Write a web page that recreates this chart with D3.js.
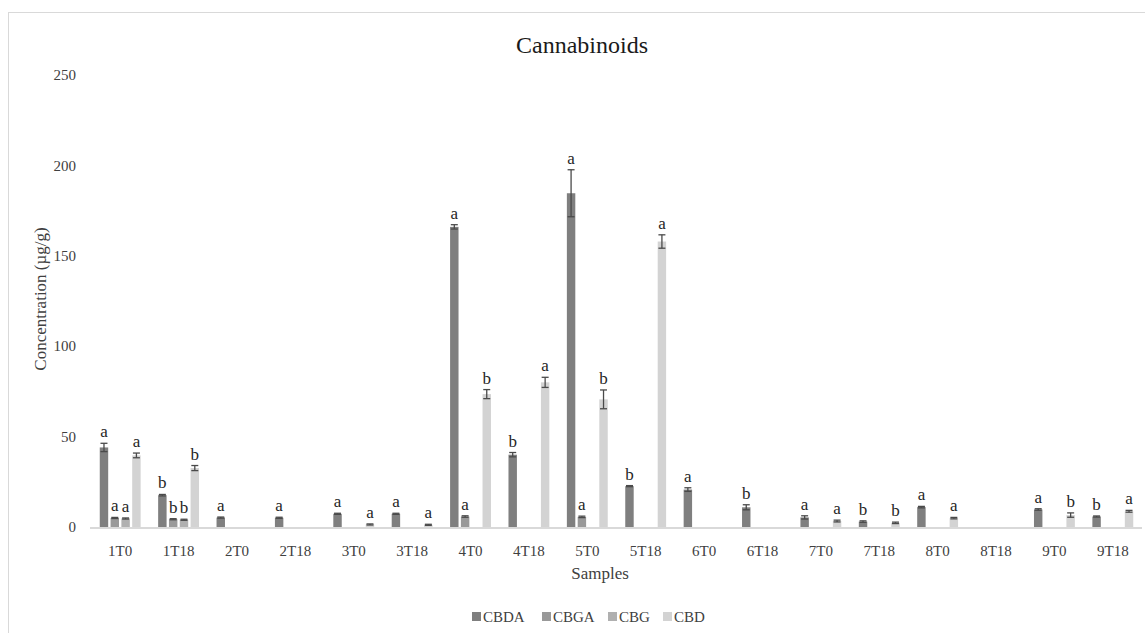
<!DOCTYPE html>
<html>
<head>
<meta charset="utf-8">
<script src="https://cdn.jsdelivr.net/npm/d3@7"></script>
<style>
  body { margin: 0; background: #fff; }
  svg { display: block; font-family: 'Liberation Serif', serif; }
</style>
</head>
<body>
<div id="chart"></div>
<script>
// samples on the x axis
let samples = ['1T0', '1T18', '2T0', '2T18', '3T0', '3T18', '4T0', '4T18', '5T0',
  '5T18', '6T0', '6T18', '7T0', '7T18', '8T0', '8T18', '9T0', '9T18']

let compounds = ['CBDA', 'CBGA', 'CBG', 'CBD']

// mean values (µg/g), null = not detected
let cbda = [44, 17.6, 5.2, 5.1, 7.3, 7.3, 166, 40, 184.6, 22.6, 20.7, 10.9, 5.3, 3.0, 11, null, 9.7, 5.8]
let cbga = [5.0, 4.3, null, null, null, null, 5.8, null, 5.6, null, null, null, null, null, null, null, null, null]
let cbg = [4.7, 4.0, null, null, null, null, null, null, null, null, null, null, null, null, null, null, null, null]
let cbd = [39.6, 32.6, null, null, 1.4, 1.2, 73.5, 80, 70.6, 157.9, null, null, 3.3, 2.3, 4.9, null, 6.6, 8.7]

// standard deviations
let cbdaErr = [2.3, 0.4, 0.3, 0.3, 0.3, 0.3, 1.2, 1.2, 13, 0.3, 1, 1.4, 0.9, 0.4, 0.4, null, 0.4, 0.3]
let cbgaErr = [0.3, 0.3, null, null, null, null, 0.4, null, 0.4, null, null, null, null, null, null, null, null, null]
let cbgErr = [0.3, 0.3, null, null, null, null, null, null, null, null, null, null, null, null, null, null, null, null]
let cbdErr = [1.3, 1.4, null, null, 0.3, 0.3, 2.5, 2.8, 5.2, 3.7, null, null, 0.5, 0.4, 0.4, null, 1.2, 0.5]

// significance letters
let cbdaLetters = ['a', 'b', 'a', 'a', 'a', 'a', 'a', 'b', 'a', 'b', 'a', 'b', 'a', 'b', 'a', '', 'a', 'b']
let cbgaLetters = ['a', 'b', '', '', '', '', 'a', '', 'a', '', '', '', '', '', '', '', '', '']
let cbgLetters = ['a', 'b', '', '', '', '', '', '', '', '', '', '', '', '', '', '', '', '']
let cbdLetters = ['a', 'b', '', '', 'a', 'a', 'b', 'a', 'b', 'a', '', '', 'a', 'b', 'a', '', 'b', 'a']

let yTicks = [0, 50, 100, 150, 200, 250]

let series = [
  { key: 'CBDA', values: cbda, err: cbdaErr, letters: cbdaLetters },
  { key: 'CBGA', values: cbga, err: cbgaErr, letters: cbgaLetters },
  { key: 'CBG', values: cbg, err: cbgErr, letters: cbgLetters },
  { key: 'CBD', values: cbd, err: cbdErr, letters: cbdLetters }
]

let margin = { top: 74, left: 91, right: 3, bottom: 106 }
let width = 1145 - margin.left - margin.right
let height = 633 - margin.top - margin.bottom

let svg = d3
  .select('#chart')
  .append('svg')
  .attr('width', 1145)
  .attr('height', 633)

// chart area frame
svg
  .append('rect')
  .attr('x', 8.5)
  .attr('y', 12.5)
  .attr('width', 1150)
  .attr('height', 640)
  .attr('fill', 'none')
  .attr('stroke', '#d9d9d9')

let g = svg
  .append('g')
  .attr('transform', 'translate(' + margin.left + ',' + margin.top + ')')

let colorScale = d3.scaleOrdinal()
  .domain(compounds)
  .range(['#7f7f7f', '#999999', '#b0b0b0', '#d3d3d3'])

let xScale = d3.scaleBand()
  .domain(samples)
  .range([0, width])
  .paddingInner(0.3)
  .paddingOuter(0.15)

let xInner = d3.scaleBand()
  .domain(compounds)
  .range([0, xScale.bandwidth()])
  .paddingInner(0.22)

let yScale = d3.scaleLinear()
  .domain([0, 250])
  .range([height, 1])

// y tick labels (no gridlines)
g.selectAll('.ytick')
  .data(yTicks)
  .enter()
  .append('text')
  .attr('class', 'ytick')
  .attr('x', -15)
  .attr('y', d => yScale(d))
  .attr('dy', '0.35em')
  .attr('text-anchor', 'end')
  .attr('font-size', '15px')
  .attr('fill', '#404040')
  .text(d => d)

let bars = []
series.forEach(s => {
  s.values.forEach((v, i) => {
    if (v === null) return
    bars.push({ key: s.key, sample: samples[i], value: v, err: s.err[i], letter: s.letters[i] })
  })
})

let groups = g.selectAll('.bar')
  .data(bars)
  .enter()
  .append('g')
  .attr('class', 'bar')
  .attr('transform', d => `translate(${xScale(d.sample) + xInner(d.key)}, 0)`)

groups.append('rect')
  .attr('x', 0)
  .attr('width', xInner.bandwidth())
  .attr('y', d => yScale(d.value))
  .attr('height', d => yScale(0) - yScale(d.value))
  .attr('fill', d => colorScale(d.key))

let bw = xInner.bandwidth()

groups.each(function(d) {
  let el = d3.select(this)
  let top = yScale(d.value + d.err)
  let bot = yScale(Math.max(0, d.value - d.err))
  let cx = bw / 2
  el.append('line')
    .attr('x1', cx).attr('x2', cx)
    .attr('y1', top).attr('y2', bot)
  el.append('line')
    .attr('x1', cx - 3.5).attr('x2', cx + 3.5)
    .attr('y1', top).attr('y2', top)
  el.append('line')
    .attr('x1', cx - 3.5).attr('x2', cx + 3.5)
    .attr('y1', bot).attr('y2', bot)
  el.selectAll('line')
    .attr('stroke', '#4a4a4a')
    .attr('stroke-width', 1.3)

  el.append('text')
    .attr('x', cx)
    .attr('y', top - 6)
    .attr('text-anchor', 'middle')
    .attr('font-size', '17px')
    .attr('fill', '#262626')
    .text(d.letter)
})

// x axis baseline
g.append('line')
  .attr('x1', -1)
  .attr('x2', width)
  .attr('y1', yScale(0) + 1)
  .attr('y2', yScale(0) + 1)
  .attr('stroke', '#d9d9d9')
  .attr('stroke-width', 2)

g.selectAll('.xlabel')
  .data(samples)
  .enter()
  .append('text')
  .attr('class', 'xlabel')
  .attr('x', d => xScale(d) + xScale.bandwidth() / 2)
  .attr('y', yScale(0) + 29)
  .attr('text-anchor', 'middle')
  .attr('font-size', '15px')
  .attr('fill', '#404040')
  .text(d => d)

// titles
svg.append('text')
  .attr('x', 582)
  .attr('y', 53)
  .attr('text-anchor', 'middle')
  .attr('font-size', '24px')
  .attr('fill', '#1a1a1a')
  .text('Cannabinoids')

svg.append('text')
  .attr('x', 600)
  .attr('y', 579)
  .attr('text-anchor', 'middle')
  .attr('font-size', '17px')
  .attr('fill', '#404040')
  .text('Samples')

svg.append('text')
  .attr('transform', 'translate(46, 299) rotate(-90)')
  .attr('text-anchor', 'middle')
  .attr('font-size', '17px')
  .attr('fill', '#404040')
  .text('Concentration (µg/g)')

// legend
let legendX = [472, 542, 608, 663]
let legend = svg.selectAll('.legend')
  .data(compounds)
  .enter()
  .append('g')
  .attr('class', 'legend')
  .attr('transform', (d, i) => `translate(${legendX[i]}, 617)`)

legend.append('rect')
  .attr('x', 0)
  .attr('y', -5)
  .attr('width', 9)
  .attr('height', 9)
  .attr('fill', d => colorScale(d))

legend.append('text')
  .attr('x', 11)
  .attr('y', 0)
  .attr('dy', '0.35em')
  .attr('font-size', '15px')
  .attr('fill', '#404040')
  .text(d => d)
</script>
</body>
</html>
